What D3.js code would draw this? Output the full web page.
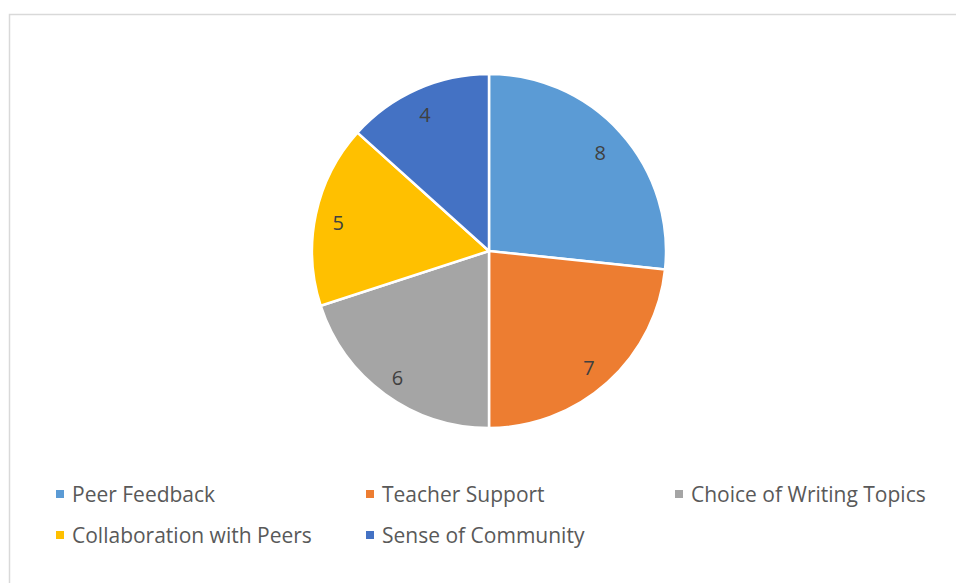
<!DOCTYPE html>
<html><head><meta charset="utf-8">
<script src="https://cdn.jsdelivr.net/npm/d3@7"></script>
<style>html,body{margin:0;padding:0;background:#fff;}svg{display:block;}</style>
</head><body>
<svg id="chart" width="956" height="583"></svg>
<script>
const categories = ["Peer Feedback", "Teacher Support", "Choice of Writing Topics", "Collaboration with Peers", "Sense of Community"];
const values = [8, 7, 6, 5, 4];
const colors = ["#5B9BD5", "#ED7D31", "#A5A5A5", "#FFC000", "#4472C4"];

const svg = d3.select("#chart");
const font = "'Open Sans', sans-serif";

svg.append("rect").attr("x", 9.5).attr("y", 14.5).attr("width", 1000).attr("height", 1000)
  .attr("fill", "#fff").attr("stroke", "#d9d9d9").attr("stroke-width", 1.5);

const cx = 489, cy = 251, R = 177;
const data = categories.map((c, i) => ({name: c, value: values[i], color: colors[i]}));
const pie = d3.pie().value(d => d.value).sort(null);
const arc = d3.arc().innerRadius(0).outerRadius(R);
const labelArc = d3.arc().innerRadius(R * 0.86).outerRadius(R * 0.86);

const g = svg.append("g").attr("transform", `translate(${cx},${cy})`);
const arcs = pie(data);
g.selectAll("path").data(arcs).join("path")
  .attr("d", arc).attr("fill", d => d.data.color)
  .attr("stroke", "#fff").attr("stroke-width", 2.5).attr("stroke-linejoin", "round");
g.selectAll("text").data(arcs).join("text")
  .attr("transform", d => { const [x, y] = labelArc.centroid(d); return `translate(${x - 2},${y + 3})`; })
  .attr("text-anchor", "middle").attr("dominant-baseline", "central")
  .attr("font-family", font).attr("font-size", 20).attr("fill", "#404040")
  .text(d => d.data.value);

// legend
const legendPos = [[72, 502], [382, 502], [691, 502], [72, 543], [382, 543]];
const lg = svg.append("g");
data.forEach((d, i) => {
  const [x, y] = legendPos[i];
  lg.append("rect").attr("x", x - 16).attr("y", y - 12).attr("width", 8).attr("height", 8).attr("fill", d.color);
  lg.append("text").attr("x", x).attr("y", y).attr("font-family", font).attr("font-size", 21)
    .attr("fill", "#595959").text(d.name);
});
</script>
</body></html>
